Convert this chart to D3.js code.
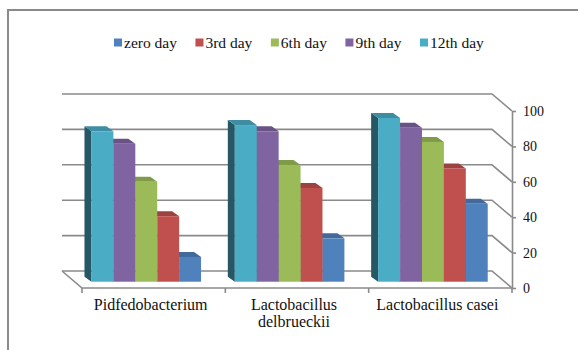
<!DOCTYPE html>
<html>
<head>
<meta charset="utf-8">
<script src="https://cdn.jsdelivr.net/npm/d3@7"></script>
<style>
  body { margin: 0; background: #fff; }
</style>
</head>
<body>
<div id="chart"></div>
<script>
// data
var categories = ["Pidfedobacterium", "Lactobacillus\ndelbrueckii", "Lactobacillus casei"];
var seriesNames = ["zero day", "3rd day", "6th day", "9th day", "12th day"];
var zeroDay = [14, 24.5, 44];
var day3 = [37, 53, 64];
var day6 = [56.5, 66, 79];
var day9 = [78, 85, 87];
var day12 = [85, 88.5, 92.5];
var yTicks = [0, 20, 40, 60, 80, 100];
var colors = ["#4F81BD", "#C0504D", "#9BBB59", "#8064A2", "#4BACC6"];

var seriesValues = [zeroDay, day3, day6, day9, day12];

var width = 578, height = 350;
var DX = 20, DY = 17;          // full depth of the 3d box
var f0 = 0.37;                 // depth of bar front faces
var bdx = 7, bdy = 5;          // bar depth
var gridColor = "#8a8a8a";
var serif = "'Liberation Serif'";

var svg = d3.select("#chart").append("svg")
    .attr("width", width)
    .attr("height", height);

// outer frame
svg.append("rect")
    .attr("x", 8).attr("y", 10)
    .attr("width", 600).attr("height", 400)
    .attr("fill", "none")
    .attr("stroke", gridColor)
    .attr("stroke-width", 2);

//scales on the front plane
var x0 = d3.scaleBand()
    .domain(categories)
    .range([82, 512])
    .padding(0);

var x1 = d3.scaleBand()
    .domain(seriesNames.slice().reverse())
    .range([0, x0.bandwidth()])
    .paddingInner(0)
    .paddingOuter(0.77);

var y = d3.scaleLinear()
    .domain([0, 100])
    .range([288, 111]);

var left = x0.range()[0], right = x0.range()[1];

function pts(arr) { return arr.map(function(p) { return p.join(","); }).join(" "); }

//back wall + side wall gridlines
var grid = svg.append("g")
    .attr("fill", "none")
    .attr("stroke", gridColor)
    .attr("stroke-width", 1.6);

grid.selectAll("polyline")
    .data(yTicks)
    .join("polyline")
    .attr("points", function(d) {
        return pts([[left - DX, y(d) - DY], [right - DX, y(d) - DY], [right, y(d)]]);
    });

//floor
grid.append("polyline")
    .attr("points", pts([[left - DX, y(0) - DY], [left, y(0)], [right, y(0)]]));

//category tick marks
grid.selectAll("line.ctick")
    .data(d3.range(categories.length + 1))
    .join("line")
    .attr("class", "ctick")
    .attr("x1", function(i) { return left + i * x0.step(); })
    .attr("x2", function(i) { return left + i * x0.step(); })
    .attr("y1", y(0))
    .attr("y2", y(0) + 5);

//bars
var bars = [];
categories.forEach(function(c, ci) {
    seriesNames.forEach(function(s, si) {
        bars.push({cat: c, series: s, value: seriesValues[si][ci], color: colors[si]});
    });
});
// draw right-most bars first so left ones sit on top
bars.sort(function(a, b) {
    return (x0(b.cat) + x1(b.series)) - (x0(a.cat) + x1(a.series));
});

var bw = x1.bandwidth();
var barG = svg.append("g").selectAll("g")
    .data(bars)
    .join("g");

barG.append("polygon")   // left side
    .attr("points", function(d) {
        var bx = x0(d.cat) + x1(d.series) - f0 * DX;
        var yt = y(d.value) - f0 * DY, yb = y(0) - f0 * DY;
        return pts([[bx, yt], [bx - bdx, yt - bdy], [bx - bdx, yb - bdy], [bx, yb]]);
    })
    .attr("fill", function(d) { return d3.color(d.color).darker(1.9); });

barG.append("polygon")   // top
    .attr("points", function(d) {
        var bx = x0(d.cat) + x1(d.series) - f0 * DX;
        var yt = y(d.value) - f0 * DY;
        return pts([[bx, yt], [bx + bw, yt], [bx + bw - bdx, yt - bdy], [bx - bdx, yt - bdy]]);
    })
    .attr("fill", function(d) { return d3.color(d.color).darker(0.55); });

barG.append("rect")      // front
    .attr("x", function(d) { return x0(d.cat) + x1(d.series) - f0 * DX; })
    .attr("y", function(d) { return y(d.value) - f0 * DY; })
    .attr("width", bw)
    .attr("height", function(d) { return y(0) - y(d.value); })
    .attr("fill", function(d) { return d.color; });

//the Y axis on the right
var yAxis = svg.append("g")
    .attr("transform", "translate(" + right + ",0)")
    .call(d3.axisRight(y).tickValues(yTicks).tickSize(4).tickPadding(7).tickSizeOuter(0));
yAxis.select(".domain").attr("stroke", gridColor).attr("stroke-width", 1.6);
yAxis.selectAll(".tick line").attr("stroke", gridColor).attr("stroke-width", 1.6);
yAxis.selectAll(".tick text")
    .style("font-family", serif)
    .style("font-size", "14px")
    .attr("fill", "#111");

//category labels
var catLabels = svg.append("g")
    .selectAll("text")
    .data(categories)
    .join("text")
    .attr("text-anchor", "middle")
    .style("font-family", serif)
    .style("font-size", "16px")
    .attr("fill", "#111")
    .attr("transform", function(d) {
        return "translate(" + (x0(d) + x0.bandwidth() / 2 - 3) + ",310)";
    });
catLabels.selectAll("tspan")
    .data(function(d) { return d.split("\n"); })
    .join("tspan")
    .attr("x", 0)
    .attr("dy", function(d, i) { return i === 0 ? 0 : 17; })
    .text(function(d) { return d; });

//legend
var legend = svg.append("g");
var lx = 114;
seriesNames.forEach(function(s, i) {
    legend.append("rect")
        .attr("x", lx).attr("y", 38.5)
        .attr("width", 8).attr("height", 8)
        .attr("fill", colors[i]);
    var t = legend.append("text")
        .attr("x", lx + 10).attr("y", 47.5)
        .style("font-family", serif)
        .style("font-size", "15.5px")
        .attr("fill", "#111")
        .text(s);
    lx += 10 + t.node().getComputedTextLength() + 18.5;
});
</script>
</body>
</html>
